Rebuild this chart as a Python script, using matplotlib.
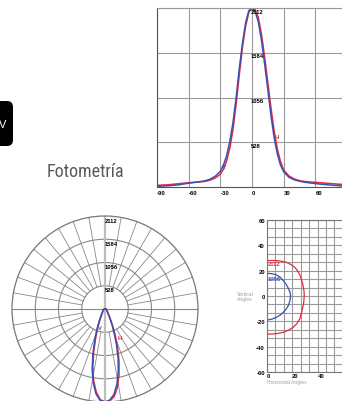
import numpy as np
import matplotlib.pyplot as plt
from matplotlib import font_manager
from matplotlib.patches import FancyBboxPatch
from matplotlib.transforms import IdentityTransform

# luminous intensity (cd) against angle, V and H planes
angles = [-90, -80, -70, -60, -50, -45, -40, -35, -30, -27, -24, -21, -18, -15, -12, -9, -6, -3,
          0, 3, 6, 9, 12, 15, 18, 21, 24, 27, 30, 35, 40, 45, 50, 60, 70, 80, 90]
v_cd = [8, 14, 25, 45, 62, 72, 90, 125, 185, 260, 370, 540, 760, 1060, 1400, 1700, 1940, 2080,
        2112, 2070, 1950, 1730, 1450, 1150, 840, 580, 390, 260, 180, 115, 85, 68, 56, 40, 28, 18, 10]
h_cd = [20, 26, 38, 50, 60, 65, 80, 105, 150, 210, 310, 460, 680, 980, 1330, 1650, 1900, 2060,
        2112, 2090, 2000, 1800, 1530, 1230, 930, 660, 450, 300, 200, 130, 95, 75, 65, 55, 45, 35, 28]
ring_values = [528, 1056, 1584, 2112]
angle_ticks = [-90, -60, -30, 0, 30, 60, 90]

# isolux outlines: horizontal angle / vertical angle
red_h = [0, 4, 8, 12, 15.5, 19, 22, 24.5, 26.5, 28.2, 29.3, 29.5, 29, 27.5, 26, 23.5, 20.8, 17, 12.9, 8, 4, 0]
red_v = [28, 28, 27.9, 27.3, 26.6, 24.8, 22.6, 19.5, 15.5, 10, 4, 0, -6, -12.5, -18, -22, -24.7, -27, -28.7, -29.6, -30, -30.2]
blue_h = [0, 4, 7.6, 10.5, 12.9, 15, 16.8, 18.2, 18.7, 18.3, 16.8, 15, 12.9, 10.5, 7.6, 4, 0]
blue_v = [17.9, 17.6, 16.6, 14.8, 12.1, 9.5, 6.3, 3, 0.3, -3.5, -7.7, -10.5, -12.9, -15, -16.8, -18.2, -19]
iso_labels = ['2112', '1056']
iso_ticks = [-60, -40, -20, 0, 20, 40, 60]

W, H = 342, 402
fig = plt.figure(figsize=(W / 100, H / 100), dpi=100)


def px_axes(left, top, width, height, **kw):
    return fig.add_axes([left / W, 1 - (top + height) / H, width / W, height / H], **kw)


# a narrow face for the heading if one is installed
names = {f.name for f in font_manager.fontManager.ttflist}
narrow = [n for n in ['Roboto Condensed', 'Liberation Sans Narrow', 'DejaVu Sans Condensed',
                      'Open Sans Condensed'] if n in names]
if narrow:
    head_font, head_size = [narrow[0], 'DejaVu Sans'], 13
else:
    head_font, head_size = ['Roboto', 'DejaVu Sans'], 11.5

blue = '#3a4fb0'
red = '#e8283a'
grid_c = '#9a9a9a'
lab = dict(fontsize=4.2, fontweight='bold', family=['Liberation Sans', 'DejaVu Sans'])

# ---- header block
fig.add_artist(FancyBboxPatch((-12, H - 147), 25, 45, boxstyle='round,pad=0,rounding_size=6',
                              fc='black', ec='none', transform=IdentityTransform()))
fig.text(3 / W, 1 - 125 / H, 'V', color='white', fontsize=8, ha='center', va='center',
         family=['Liberation Sans', 'DejaVu Sans'])
fig.text(47 / W, 1 - 177 / H, 'Fotometría', color='#5a5a5a', fontsize=head_size, ha='left',
         va='baseline', fontweight='normal', family=head_font)

# ---- cartesian curve
ax1 = px_axes(157, 9, 190, 179)
ax1.plot(angles, h_cd, color=red, lw=1.1)
ax1.plot(angles, v_cd, color=blue, lw=1.1)
ax1.set_xlim(-90, 90)
ax1.set_ylim(0, 2112)
ax1.set_xticks(angle_ticks)
ax1.set_xticklabels([str(a) for a in angle_ticks], ha='left', **lab)
ax1.set_yticks(ring_values)
ax1.set_yticklabels([])
ax1.tick_params(length=0, pad=2)
ax1.grid(True, color=grid_c, lw=0.8)
for side in ['top', 'right']:
    ax1.spines[side].set_color(grid_c)
for side in ['left', 'bottom']:
    ax1.spines[side].set_color('#555555')
for r in ring_values:
    ax1.text(-1, r - 38, str(r), ha='left', va='center', color='black', **lab)
ax1.text(-26.6, 236, 'V', color=blue, ha='center', va='center', **lab)
ax1.text(23.7, 590, 'H', color=red, ha='center', va='center', **lab)

# ---- polar curve
ax2 = px_axes(12, 217, 186, 186, projection='polar')
ax2.set_theta_zero_location('S')
ax2.set_ylim(0, 2112)
ax2.grid(False)
ax2.set_xticks([])
ax2.set_yticks([])
ax2.spines['polar'].set_color('#777777')
ax2.spines['polar'].set_linewidth(0.9)
th = np.linspace(0, 2 * np.pi, 361)
for r in ring_values[:-1]:
    ax2.plot(th, np.full_like(th, r), color='#888888', lw=0.8)
for a in range(0, 360, 10):
    if a % 90 == 0:
        continue
    ax2.plot([np.radians(a)] * 2, [528, 2112], color='#888888', lw=0.6)
ax2.plot([np.pi / 2, np.pi / 2], [0, 2112], color='#888888', lw=0.8)
ax2.plot([-np.pi / 2, -np.pi / 2], [0, 2112], color='#888888', lw=0.8)
ax2.plot([0, 0], [0, 2112], color='#bdbdbd', lw=1.6)
ax2.plot([np.pi, np.pi], [0, 2112], color='#bdbdbd', lw=1.6)
rad = np.radians(angles)
ax2.plot(rad, h_cd, color=red, lw=1.1)
ax2.plot(rad, v_cd, color=blue, lw=1.1)
for r in ring_values:
    ax2.text(np.pi, r - 95, str(r), ha='left', va='center', color='black', **lab)
ax2.text(np.radians(-15.5), 425, 'V', color=blue, ha='center', va='center', **lab)
ax2.text(np.radians(27.3), 741, 'H', color=red, ha='center', va='center', **lab)

# ---- isolux diagram
ax3 = px_axes(267, 221, 101, 152)
ax3.plot(red_h, red_v, color=red, lw=0.9)
ax3.plot(blue_h, blue_v, color=blue, lw=0.9)
ax3.set_xlim(0, 80)
ax3.set_ylim(-60, 60)
ax3.set_xticks([0, 20, 40, 60, 80])
ax3.set_xticklabels(['0', '20', '40', '', ''], ha='left', **lab)
ax3.set_yticks(iso_ticks)
ax3.set_yticklabels([str(t) for t in iso_ticks], **lab)
ax3.set_xticks(np.arange(0, 81, 20 / 3), minor=True)
ax3.set_yticks(np.arange(-60, 61, 20 / 3), minor=True)
ax3.tick_params(which='both', length=0, pad=1.5)
ax3.tick_params(axis='x', pad=0.5)
ax3.grid(True, which='both', color=grid_c, lw=0.8)
for s in ax3.spines.values():
    s.set_color('#777777')
ax3.text(0.6, 25.3, iso_labels[0], color=red, ha='left', va='center', **lab)
ax3.text(0.6, 14.2, iso_labels[1], color=blue, ha='left', va='center', **lab)
fig.text(245 / W, 1 - 297 / H, 'Vertical\nAngles', color='#a0a0a0', fontsize=3.6, ha='center',
         va='center', linespacing=1.0, family=['Liberation Sans', 'DejaVu Sans'])
fig.text(267 / W, 1 - 383 / H, 'Horizontal Angles', color='#a0a0a0', fontsize=3.6, ha='left',
         va='center', family=['Liberation Sans', 'DejaVu Sans'])

fig.savefig('out.png', dpi=100)
